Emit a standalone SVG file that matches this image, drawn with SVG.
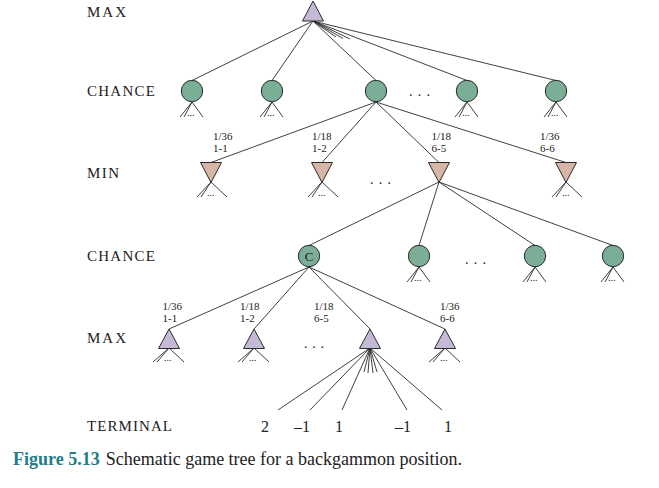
<svg xmlns="http://www.w3.org/2000/svg" width="659" height="488" viewBox="0 0 659 488">
<style>
.lbl{font-family:"Liberation Serif","Times New Roman",serif;font-size:15px;fill:#222}
.prob{font-family:"Liberation Serif","Times New Roman",serif;font-size:11px;fill:#222}
.term{font-family:"Liberation Serif","Times New Roman",serif;font-size:16px;fill:#222;text-anchor:middle}
.dots{font-family:"Liberation Serif","Times New Roman",serif;font-size:14px;fill:#222}
.sd{font-family:"Liberation Serif","Times New Roman",serif;font-size:10px;fill:#222}
.e{stroke:#2a2a2a;stroke-width:0.9;fill:none}
.max{fill:#c4bad6;stroke:#2a2a2a;stroke-width:1}
.min{fill:#d6b6a6;stroke:#2a2a2a;stroke-width:1}
.ch{fill:#7aae97;stroke:#2a2a2a;stroke-width:1}
</style>
<rect width="659" height="488" fill="#fff"/>
<!-- level labels -->
<g id="labels">
<text class="lbl" x="87" y="17" textLength="39">MAX</text>
<text class="lbl" x="87" y="96" textLength="68">CHANCE</text>
<text class="lbl" x="87" y="178" textLength="32">MIN</text>
<text class="lbl" x="87" y="261" textLength="68">CHANCE</text>
<text class="lbl" x="87" y="343" textLength="39">MAX</text>
<text class="lbl" x="87" y="431" textLength="85">TERMINAL</text>
</g>
<g id="connectors">
<!-- root to chance -->
<path class="e" d="M313,21 L192,80.5 M313,21 L272,80.5 M313,21 L376,80.5 M313,21 L467,80.5 M313,21 L556,80.5 M313,21 L336,37 M313,21 L343,38.5 M313,21 L350,39"/>
<!-- chance (376) to MIN -->
<path class="e" d="M376,102 L211,162.5 M376,102 L322,162.5 M376,102 L439,162.5 M376,102 L566,162.5"/>
<!-- MIN (439) to chance level 2 -->
<path class="e" d="M439,182 L309,245.5 M439,182 L419,245.5 M439,182 L535,245.5 M439,182 L613,245.5"/>
<!-- C to MAX -->
<path class="e" d="M309,267 L169,329 M309,267 L254,329 M309,267 L370,329 M309,267 L445,329"/>
<!-- MAX (370) to terminals -->
<path class="e" d="M370,348 L278,410 M370,348 L310,410 M370,348 L342,410 M370,348 L407,410 M370,348 L442,410 M370,348 L364,372 M370,348 L368,373 M370,348 L373,373 M370,348 L377,372"/>
<!-- stubs under chance level 1 -->
<path class="e" d="M192,102 L180,117 M192,102 L184,117 M192,102 L203,117 M272,102 L260,117 M272,102 L264,117 M272,102 L283,117 M467,102 L455,117 M467,102 L459,117 M467,102 L478,117 M556,102 L544,117 M556,102 L548,117 M556,102 L567,117"/>
<!-- stubs under MIN -->
<path class="e" d="M211,182 L197,197 M211,182 L201,197 M211,182 L227,197 M322,182 L308,197 M322,182 L312,197 M322,182 L338,197 M566,182 L552,197 M566,182 L556,197 M566,182 L582,197"/>
<!-- stubs under chance level 2 -->
<path class="e" d="M419,267 L407,282 M419,267 L411,282 M419,267 L430,282 M535,267 L523,282 M535,267 L527,282 M535,267 L546,282 M613,267 L601,282 M613,267 L605,282 M613,267 L624,282"/>
<!-- stubs under MAX level 2 -->
<path class="e" d="M169,348 L153,362 M169,348 L157,362 M169,348 L184,362 M254,348 L238,362 M254,348 L242,362 M254,348 L269,362 M445,348 L429,362 M445,348 L433,362 M445,348 L460,362"/>
</g>
<g id="stubdots">
<text class="sd" x="187" y="116">...</text>
<text class="sd" x="267" y="116">...</text>
<text class="sd" x="462" y="116">...</text>
<text class="sd" x="551" y="116">...</text>
<text class="sd" x="207" y="196">...</text>
<text class="sd" x="318" y="196">...</text>
<text class="sd" x="562" y="196">...</text>
<text class="sd" x="414" y="281">...</text>
<text class="sd" x="530" y="281">...</text>
<text class="sd" x="608" y="281">...</text>
<text class="sd" x="164" y="361">...</text>
<text class="sd" x="249" y="361">...</text>
<text class="sd" x="440" y="361">...</text>
</g>
<g id="ellipses">
<text class="dots" x="409" y="96" textLength="21">. . .</text>
<text class="dots" x="370" y="184" textLength="21">. . .</text>
<text class="dots" x="465" y="264" textLength="21">. . .</text>
<text class="dots" x="304" y="348" textLength="20">. . .</text>
</g>
<!-- nodes -->
<g id="root-max"><polygon class="max" points="313,1 302.5,21 323.5,21"/></g>
<g id="chance1-a"><circle class="ch" cx="192" cy="91" r="10.7"/></g>
<g id="chance1-b"><circle class="ch" cx="272" cy="91" r="10.7"/></g>
<g id="chance1-c"><circle class="ch" cx="376" cy="91" r="10.7"/></g>
<g id="chance1-d"><circle class="ch" cx="467" cy="91" r="10.7"/></g>
<g id="chance1-e"><circle class="ch" cx="556" cy="91" r="10.7"/></g>
<g id="min-a"><polygon class="min" points="200.5,162.5 221.5,162.5 211,182.5"/></g>
<g id="min-b"><polygon class="min" points="311.5,162.5 332.5,162.5 322,182.5"/></g>
<g id="min-c"><polygon class="min" points="428.5,162.5 449.5,162.5 439,182.5"/></g>
<g id="min-d"><polygon class="min" points="555.5,162.5 576.5,162.5 566,182.5"/></g>
<g id="chance2-c"><circle class="ch" cx="309" cy="256" r="10.7"/><text x="309" y="261" text-anchor="middle" style="font-family:'Liberation Serif','Times New Roman',serif;font-size:13px;fill:#222">C</text></g>
<g id="chance2-b"><circle class="ch" cx="419" cy="256" r="10.7"/></g>
<g id="chance2-d"><circle class="ch" cx="535" cy="256" r="10.7"/></g>
<g id="chance2-e"><circle class="ch" cx="613" cy="256" r="10.7"/></g>
<g id="max2-a"><polygon class="max" points="169,329 158.5,348.5 179.5,348.5"/></g>
<g id="max2-b"><polygon class="max" points="254,329 243.5,348.5 264.5,348.5"/></g>
<g id="max2-c"><polygon class="max" points="370,329 359.5,348.5 380.5,348.5"/></g>
<g id="max2-d"><polygon class="max" points="445,329 434.5,348.5 455.5,348.5"/></g>
<!-- probability labels -->
<g id="probs">
<text class="prob" x="213" y="140">1/36</text><text class="prob" x="213" y="152">1-1</text>
<text class="prob" x="312" y="140">1/18</text><text class="prob" x="312" y="152">1-2</text>
<text class="prob" x="431.5" y="140">1/18</text><text class="prob" x="431.5" y="152">6-5</text>
<text class="prob" x="540" y="140">1/36</text><text class="prob" x="540" y="152">6-6</text>
<text class="prob" x="162.5" y="309.5">1/36</text><text class="prob" x="162.5" y="321.5">1-1</text>
<text class="prob" x="240" y="309.5">1/18</text><text class="prob" x="240" y="321.5">1-2</text>
<text class="prob" x="314" y="309.5">1/18</text><text class="prob" x="314" y="321.5">6-5</text>
<text class="prob" x="440" y="309.5">1/36</text><text class="prob" x="440" y="321.5">6-6</text>
</g>
<g id="terminals">
<text class="term" x="265" y="432">2</text>
<text class="term" x="302" y="432">–1</text>
<text class="term" x="339" y="432">1</text>
<text class="term" x="403" y="432">–1</text>
<text class="term" x="448" y="432">1</text>
</g>
<g id="caption">
<text x="13" y="465" style="font-family:'Liberation Serif','Times New Roman',serif;font-size:18px"><tspan font-weight="bold" fill="#1f7d8a">Figure 5.13</tspan><tspan dx="6" fill="#222">Schematic game tree for a backgammon position.</tspan></text>
</g>
</svg>
